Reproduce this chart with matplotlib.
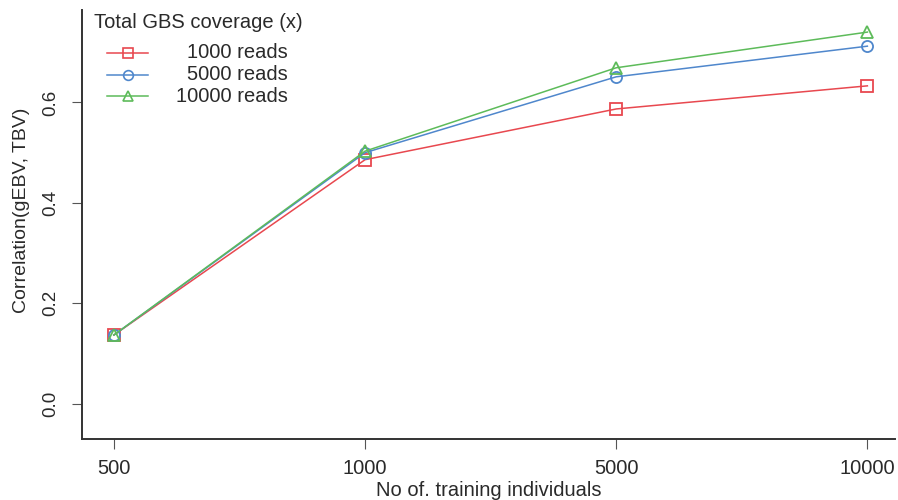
import matplotlib.pyplot as plt
from matplotlib.lines import Line2D

plt.rcParams['font.family'] = ['Liberation Sans', 'DejaVu Sans']

# data
x_labels = ['500', '1000', '5000', '10000']
reads_1000 = [0.137, 0.486, 0.587, 0.633]
reads_5000 = [0.137, 0.500, 0.651, 0.712]
reads_10000 = [0.137, 0.503, 0.669, 0.740]
series_names = ['1000 reads', '5000 reads', '10000 reads']

colors = ['#E8484F', '#4F87CC', '#5DBB5A']
markers = ['s', 'o', '^']
txt_col = '#2a2a2a'

W, H = 898, 500
fig = plt.figure(figsize=(W / 100, H / 100), dpi=100)
ax = fig.add_axes([82 / W, 1 - 439 / H, 813 / W, 429 / H])

xs = list(range(len(x_labels)))
all_series = [reads_1000, reads_5000, reads_10000]
for vals, name, c, m in zip(all_series, series_names, colors, markers):
    ax.plot(xs, vals, color=c, marker=m, markersize=8, markerfacecolor='none',
            markeredgecolor=c, markeredgewidth=1.3, linewidth=1.1, label=name)

ax.set_xlim(-0.127, 3.11)
ax.set_ylim(-0.07, 0.784)
ax.set_xticks(xs)
ax.set_xticklabels(x_labels)
ax.set_yticks([0.0, 0.2, 0.4, 0.6])
ax.set_yticklabels(['0.0', '0.2', '0.4', '0.6'], rotation=90, va='center')
ax.tick_params(direction='out', length=7.5, width=0.8, labelsize=14.5,
               colors='#555555', labelcolor=txt_col)
ax.tick_params(axis='x', pad=7)
ax.tick_params(axis='y', pad=9, labelsize=13.5)

for s in ['top', 'right']:
    ax.spines[s].set_visible(False)
for s in ['left', 'bottom']:
    ax.spines[s].set_linewidth(1.4)
    ax.spines[s].set_color('#333333')

ax.set_xlabel('No of. training individuals', fontsize=14.5, color=txt_col, va='center')
ax.xaxis.set_label_coords(0.5, (439 - 491) / 429)
ax.set_ylabel('Correlation(gEBV, TBV)', fontsize=14, color=txt_col, va='center')
ax.yaxis.set_label_coords((22 - 82) / 813, 0.533)

# legend drawn R-style: centred title, right aligned labels
fig.text(198 / W, 1 - 23 / H, 'Total GBS coverage (x)', ha='center', va='center',
         fontsize=14.5, color=txt_col)
row_y = [53, 75, 96]
for name, c, m, yy in zip(series_names, colors, markers, row_y):
    fy = 1 - yy / H
    fig.add_artist(Line2D([107 / W, 127.5 / W, 148 / W], [fy, fy, fy], transform=fig.transFigure,
                          color=c, linewidth=1.1, marker=m, markevery=[1], markersize=7,
                          markerfacecolor='none', markeredgecolor=c, markeredgewidth=1.2))
    fig.text(288 / W, fy, name, ha='right', va='center', fontsize=14.5, color=txt_col)

plt.savefig('out.png', dpi=100)
